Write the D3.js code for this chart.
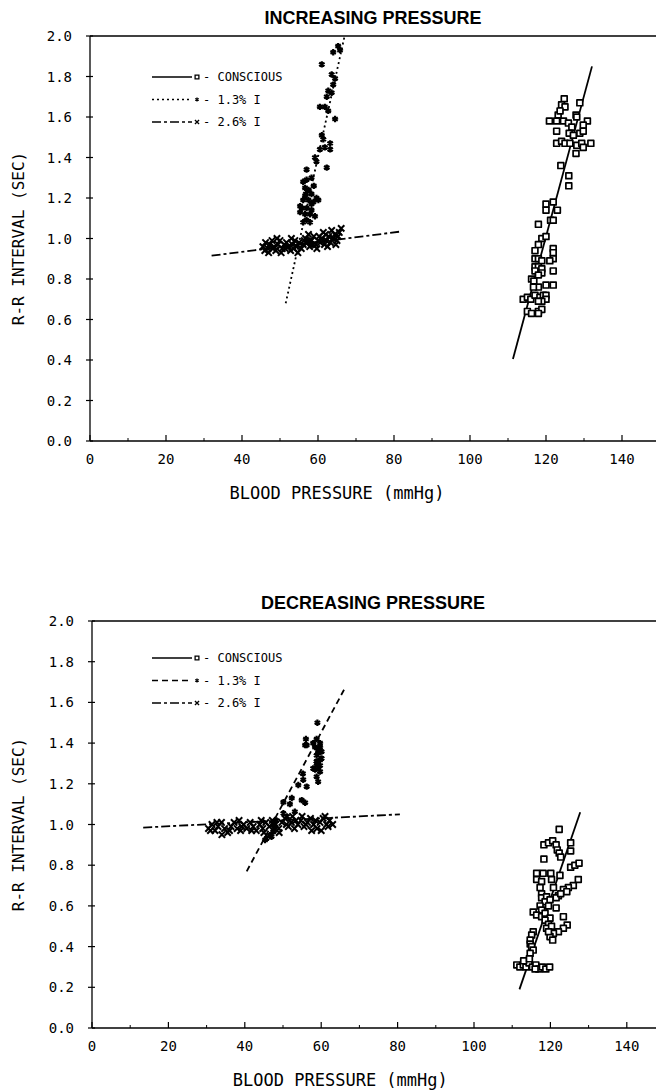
<!DOCTYPE html>
<html>
<head>
<meta charset="utf-8">
<script src="https://cdn.jsdelivr.net/npm/d3@7"></script>
<style>
  body { margin: 0; background: #fff; }
  svg { display: block; }
</style>
</head>
<body>
<div id="root"></div>
<script>
// tick values
var xTicks = [0, 20, 40, 60, 80, 100, 120, 140];
var xMinor = [10, 30, 50, 70, 90, 110, 130, 150];
var yTicks = [0, 0.2, 0.4, 0.6, 0.8, 1.0, 1.2, 1.4, 1.6, 1.8, 2.0];

var legendLabels = ["- CONSCIOUS", "- 1.3% I", "- 2.6% I"];

// INCREASING PRESSURE  [BP, R-R]
var incConscious = [[124.8,1.69],[124.1,1.66],[125,1.65],[128.9,1.67],[123.2,1.61],[123.7,1.63],[120.9,1.58],[122.8,1.58],[124.6,1.58],[125.9,1.57],[127.9,1.61],[128.1,1.60],[130.9,1.58],[129.8,1.56],[126.8,1.55],[122.8,1.53],[126.1,1.52],[127.2,1.51],[128.9,1.52],[129.8,1.53],[122.8,1.47],[124.1,1.48],[125,1.47],[126.3,1.47],[128.1,1.46],[129.4,1.47],[129.8,1.45],[131.8,1.47],[127.9,1.42],[123.9,1.36],[126,1.31],[126,1.26],[121.9,1.18],[120,1.17],[120,1.14],[123,1.14],[121.2,1.09],[121.9,1.09],[118,1.07],[118.9,1.00],[120,1.01],[118,0.97],[117.1,0.94],[121.9,0.95],[121.9,0.93],[121.9,0.90],[121,0.89],[117.1,0.90],[118,0.90],[118.9,0.89],[117.1,0.86],[118,0.86],[117.1,0.84],[118.9,0.85],[118.9,0.83],[118,0.82],[121.9,0.84],[116.2,0.80],[116.8,0.79],[118,0.76],[120,0.77],[121.9,0.77],[116.7,0.76],[114,0.70],[115.1,0.71],[116,0.70],[117.1,0.72],[118.4,0.71],[119.3,0.72],[120,0.72],[120,0.70],[118.9,0.69],[118,0.69],[115.1,0.64],[116.2,0.63],[118,0.64],[118.9,0.65],[118,0.63]];
var incHalo13 = [[64,1.92],[65.8,1.93],[65.3,1.95],[61,1.86],[63.6,1.81],[64.5,1.79],[64,1.76],[62.7,1.73],[63.6,1.72],[62.3,1.70],[60.5,1.65],[61.8,1.65],[62.7,1.63],[64.5,1.59],[61,1.51],[61.4,1.49],[60.5,1.44],[61.8,1.45],[63.2,1.44],[63.2,1.47],[59.2,1.40],[59.6,1.38],[57,1.34],[62.3,1.35],[58.3,1.30],[57,1.29],[56.1,1.28],[57.5,1.24],[56.8,1.22],[58.3,1.22],[56.1,1.19],[57.5,1.19],[58.8,1.18],[60.1,1.19],[55.7,1.15],[57,1.15],[58.3,1.14],[55.3,1.13],[56.6,1.12],[57.9,1.12],[59.2,1.11],[56.1,1.08],[57,1.09],[57.9,1.08],[56.6,1.21],[55.3,1.16],[58.3,1.17],[59.6,1.20],[56.6,1.25],[58.9,1.26],[57.4,0.99],[58.5,0.97]];
var incHalo26 = [[45.5,0.96],[46.2,0.98],[46.8,0.95],[47.3,0.97],[47.9,0.99],[48.4,0.96],[48.9,0.94],[49.5,0.97],[50.0,0.99],[50.6,0.95],[51.1,0.97],[51.7,0.98],[52.2,0.96],[52.8,0.94],[53.3,0.97],[53.9,0.99],[54.4,0.96],[55.0,0.98],[55.6,0.95],[56.1,0.97],[56.7,1.00],[57.2,0.98],[57.8,0.96],[58.3,0.99],[58.9,1.01],[59.4,0.97],[60.0,0.99],[60.6,0.98],[61.1,1.00],[61.7,0.97],[62.2,0.99],[62.8,1.01],[63.3,0.98],[63.9,1.00],[64.4,1.02],[65.0,0.99],[65.6,1.03],[66.1,1.05],[47.0,0.93],[50.3,0.93],[54.7,0.93],[59.7,0.95],[62.5,0.96],[64.7,0.97],[49.2,1.00],[53.0,1.00],[57.5,1.02],[61.4,1.03],[63.6,1.04],[46.0,0.94],[48.1,0.95],[51.4,0.95],[53.6,0.95],[56.4,0.99],[58.6,0.97],[60.3,1.01],[62.0,1.02],[64.1,1.00],[65.3,1.01]];
var incFitConscious = [[111.3,0.405],[132.1,1.85]];
var incFit13 = [[51.5,0.68],[67,2.0]];
var incFit26 = [[32,0.915],[82,1.035]];

// DECREASING PRESSURE
var decConscious = [[122.3,0.976],[118.3,0.90],[119.5,0.91],[120.6,0.92],[121.5,0.90],[121.8,0.875],[125.3,0.91],[125.3,0.87],[118.3,0.83],[122.3,0.86],[122.7,0.84],[125.3,0.79],[126.4,0.80],[127.5,0.81],[116.4,0.76],[118.1,0.76],[120.1,0.76],[122.5,0.75],[116.4,0.73],[117.7,0.72],[120.3,0.73],[120.8,0.69],[127.3,0.73],[126,0.70],[124.7,0.69],[123.4,0.68],[122.1,0.65],[121.5,0.64],[122.7,0.66],[124.3,0.67],[117.3,0.69],[117.7,0.66],[117.7,0.64],[119,0.645],[118.6,0.62],[119.9,0.63],[117.3,0.60],[117.7,0.58],[119.5,0.60],[121.5,0.59],[115.5,0.57],[116.4,0.555],[117.7,0.547],[118.6,0.564],[119.9,0.54],[123.4,0.547],[124.4,0.506],[123.4,0.49],[122.1,0.473],[120.8,0.465],[119.9,0.449],[120.6,0.432],[118.6,0.53],[119.5,0.51],[119,0.49],[120.3,0.50],[119.5,0.473],[115.5,0.473],[115.1,0.457],[114.7,0.432],[114.7,0.413],[115.1,0.40],[115.5,0.383],[114.7,0.367],[111.2,0.31],[112.0,0.30],[112.9,0.31],[113.6,0.30],[114.4,0.32],[115.3,0.30],[116.2,0.31],[117.0,0.29],[117.9,0.30],[118.8,0.29],[119.8,0.30],[113.0,0.33],[114.5,0.34],[116.0,0.29]];
var decHalo13 = [[59,1.50],[56,1.42],[56.2,1.39],[58.8,1.42],[59.7,1.40],[58.4,1.38],[59.2,1.366],[60.1,1.358],[58.8,1.34],[59.7,1.317],[58.8,1.30],[59.2,1.28],[57.9,1.276],[55.8,1.39],[57.9,1.40],[59.7,1.38],[59.2,1.35],[60.1,1.325],[58.8,1.31],[59.7,1.29],[58.4,1.27],[59.7,1.26],[58.8,1.235],[59.2,1.21],[55.2,1.25],[54,1.194],[56.2,1.186],[55.3,1.22],[50.1,1.11],[52.3,1.13],[51.8,1.10],[54.9,1.12],[55.8,1.107],[53.1,1.063],[48.3,1.02],[47.9,0.99],[47.5,0.965],[46.6,0.948],[45.7,0.932],[45.3,0.924],[47,0.94],[47.5,1.006],[50.1,1.055],[51,1.04]];
var decHalo26 = [[30.5,0.98],[31.4,1.00],[32.2,0.97],[33.0,0.99],[33.9,1.01],[34.7,0.98],[35.5,0.96],[36.4,0.99],[37.2,1.01],[38.0,0.98],[38.9,0.97],[39.7,1.00],[40.5,0.98],[41.4,1.01],[42.2,0.99],[43.0,0.97],[43.9,1.00],[44.7,0.98],[45.5,1.01],[46.4,0.99],[47.2,1.02],[48.0,1.00],[48.9,0.98],[49.7,1.01],[50.5,1.03],[51.4,0.99],[52.2,1.01],[53.0,0.98],[53.9,1.00],[54.7,1.02],[55.5,0.99],[56.4,1.01],[57.2,1.03],[58.0,1.00],[58.9,0.98],[59.7,1.01],[60.5,1.03],[61.4,1.00],[62.2,1.02],[63.0,1.00],[34.0,0.95],[45.0,0.96],[52.5,1.04],[57.5,0.97],[60.0,0.97],[38.5,1.02],[49.0,0.96],[55.0,1.04],[61.0,1.04],[31.0,0.97],[32.7,1.01],[36.0,0.97],[39.2,0.99],[41.8,0.97],[44.3,1.02],[47.6,0.98],[50.9,1.00],[53.4,1.02],[56.0,1.00],[58.5,1.02],[61.8,0.99]];
var decFitConscious = [[111.9,0.19],[127.8,1.06]];
var decFit13 = [[40.5,0.77],[66.2,1.67]];
var decFit26 = [[13.4,0.985],[80.6,1.05]];

var svg = d3.select("#root")
    .append("svg")
    .attr("width", 656)
    .attr("height", 1092);

var mono = "'DejaVu Sans Mono', monospace";

function drawPanel(p) {
    var x = d3.scaleLinear().domain([0, 150]).range([p.left, p.left + 150 * p.xUnit]);
    var y = d3.scaleLinear().domain([0, 2]).range([p.bottom, p.top]);
    var g = svg.append("g");

    // title
    g.append("text")
        .attr("x", 373).attr("y", p.top - 12)
        .attr("text-anchor", "middle")
        .attr("font-family", "'Liberation Sans', Arial, sans-serif")
        .attr("font-weight", "bold")
        .attr("font-size", 18)
        .text(p.title);

    // frame: top line, left axis, bottom axis
    g.append("line").attr("x1", p.left).attr("x2", 656).attr("y1", y(2)).attr("y2", y(2))
        .attr("stroke", "#000").attr("stroke-width", 1.3);
    g.append("line").attr("x1", p.left).attr("x2", p.left).attr("y1", y(0)).attr("y2", y(2))
        .attr("stroke", "#000").attr("stroke-width", 1.3);
    g.append("line").attr("x1", p.left).attr("x2", 656).attr("y1", y(0)).attr("y2", y(0))
        .attr("stroke", "#000").attr("stroke-width", 1.3);

    // x ticks
    g.selectAll(".xt").data(xTicks).enter().append("line")
        .attr("x1", function (d) { return x(d); }).attr("x2", function (d) { return x(d); })
        .attr("y1", y(0)).attr("y2", y(0) - 6)
        .attr("stroke", "#000").attr("stroke-width", 1.2);
    g.selectAll(".xm").data(xMinor).enter().append("line")
        .attr("x1", function (d) { return x(d); }).attr("x2", function (d) { return x(d); })
        .attr("y1", y(0)).attr("y2", y(0) - 3)
        .attr("stroke", "#000").attr("stroke-width", 1);
    g.selectAll(".xl").data(xTicks).enter().append("text")
        .attr("x", function (d) { return x(d); })
        .attr("y", y(0) + 23)
        .attr("text-anchor", "middle")
        .attr("font-family", mono).attr("font-size", 14)
        .text(function (d) { return d; });

    // y ticks
    g.selectAll(".yt").data(yTicks).enter().append("line")
        .attr("x1", p.left - 4).attr("x2", p.left + 3)
        .attr("y1", function (d) { return y(d); }).attr("y2", function (d) { return y(d); })
        .attr("stroke", "#000").attr("stroke-width", 1.2);
    g.selectAll(".yl").data(yTicks).enter().append("text")
        .attr("x", p.left - 18)
        .attr("y", function (d) { return y(d) + 5; })
        .attr("text-anchor", "end")
        .attr("font-family", mono).attr("font-size", 14)
        .text(function (d) { return d3.format(".1f")(d); });

    // axis titles
    g.append("text")
        .attr("x", x(65)).attr("y", y(0) + 58)
        .attr("text-anchor", "middle")
        .attr("font-family", mono).attr("font-size", 17)
        .text("BLOOD PRESSURE (mmHg)");
    g.append("text")
        .attr("transform", "translate(24," + y(1) + ") rotate(-90)")
        .attr("text-anchor", "middle")
        .attr("font-family", mono).attr("font-size", 16)
        .text("R-R INTERVAL (SEC)");

    // regression lines
    var line = d3.line().x(function (d) { return x(d[0]); }).y(function (d) { return y(d[1]); });
    p.fits.forEach(function (f, i) {
        g.append("path").attr("d", line(f))
            .attr("fill", "none").attr("stroke", "#000")
            .attr("stroke-width", 1.8)
            .attr("stroke-dasharray", p.dashes[i]);
    });

    // points
    var sq = d3.symbol().type(d3.symbolSquare).size(34);
    var ast = d3.symbol().type(d3.symbolAsterisk).size(28);
    var cross = d3.symbol().type(d3.symbolTimes).size(28);

    g.selectAll(".c").data(p.conscious).enter().append("path")
        .attr("d", sq)
        .attr("transform", function (d) { return "translate(" + x(d[0]) + "," + y(d[1]) + ")"; })
        .attr("fill", "#fff").attr("stroke", "#000").attr("stroke-width", 1.7)
        .attr("stroke-linejoin", "round");
    g.selectAll(".h13").data(p.h13).enter().append("path")
        .attr("d", ast)
        .attr("transform", function (d) { return "translate(" + x(d[0]) + "," + y(d[1]) + ")"; })
        .attr("fill", "none").attr("stroke", "#000").attr("stroke-width", 2.2);
    g.selectAll(".h26").data(p.h26).enter().append("path")
        .attr("d", cross)
        .attr("transform", function (d) { return "translate(" + x(d[0]) + "," + y(d[1]) + ")"; })
        .attr("fill", "none").attr("stroke", "#000").attr("stroke-width", 2);

    // legend
    var syms = [sq, ast, cross];
    legendLabels.forEach(function (lab, i) {
        var ly = p.legendY + i * 22.5;
        g.append("line")
            .attr("x1", 152).attr("x2", 192).attr("y1", ly).attr("y2", ly)
            .attr("stroke", "#000").attr("stroke-width", 1.3)
            .attr("stroke-dasharray", p.dashes[i]);
        g.append("path").attr("d", syms[i])
            .attr("transform", "translate(197," + ly + ") scale(0.65)")
            .attr("fill", i == 0 ? "#fff" : "none").attr("stroke", "#000").attr("stroke-width", 2);
        g.append("text")
            .attr("x", 203).attr("y", ly + 4)
            .attr("font-family", mono).attr("font-size", 12)
            .text(lab);
    });
}

drawPanel({
    title: "INCREASING PRESSURE",
    left: 90, xUnit: 3.8, top: 36, bottom: 441,
    conscious: incConscious, h13: incHalo13, h26: incHalo26,
    fits: [incFitConscious, incFit13, incFit26],
    dashes: ["none", "2,3", "9,3,3,3"],
    legendY: 77
});

drawPanel({
    title: "DECREASING PRESSURE",
    left: 92, xUnit: 3.82, top: 621, bottom: 1028,
    conscious: decConscious, h13: decHalo13, h26: decHalo26,
    fits: [decFitConscious, decFit13, decFit26],
    dashes: ["none", "6,4", "9,3,3,3"],
    legendY: 658
});
</script>
</body>
</html>
